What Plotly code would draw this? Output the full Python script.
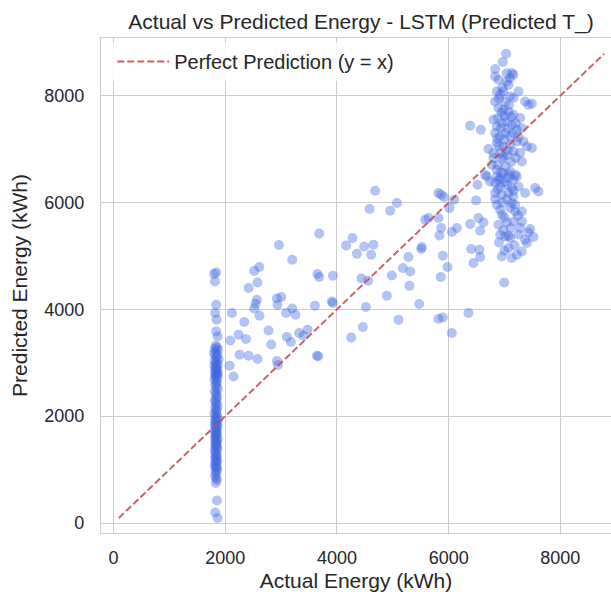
import plotly.graph_objects as go

# (actual kWh, predicted kWh)
column_points = [
    (1838, 4691), (1800, 4667), (1815, 4523), (1838, 4087), (1820, 3931), (1845, 3806), (1838, 3587), (1860, 3493),
    (1830, 3318), (1850, 3290), (1812, 3262), (1870, 3241), (1836, 3205), (1798, 3178), (1855, 3150), (1826, 3131),
    (1842, 3102), (1880, 3069), (1810, 3044), (1848, 3021), (1832, 2987), (1866, 2962), (1804, 2955), (1840, 2931),
    (1825, 2905), (1858, 2880), (1838, 2873), (1812, 2849), (1850, 2822), (1835, 2800), (1872, 2790), (1818, 2768),
    (1845, 2760), (1830, 2741), (1860, 2712), (1808, 2688), (1840, 2651), (1852, 2622), (1822, 2590), (1838, 2548),
    (1866, 2511), (1815, 2470), (1842, 2433), (1828, 2398), (1855, 2356), (1835, 2318), (1812, 2284), (1848, 2251),
    (1830, 2212), (1862, 2179), (1820, 2148), (1845, 2117), (1836, 2083), (1805, 2051), (1852, 2022), (1828, 1994),
    (1840, 1961), (1868, 1950), (1815, 1930), (1846, 1898), (1832, 1880), (1858, 1871), (1810, 1842), (1838, 1813),
    (1862, 1810), (1826, 1785), (1848, 1752), (1834, 1724), (1812, 1720), (1856, 1693), (1840, 1664), (1822, 1640),
    (1846, 1630), (1830, 1602), (1866, 1571), (1814, 1570), (1842, 1543), (1828, 1511), (1852, 1490), (1836, 1482),
    (1818, 1450), (1848, 1421), (1832, 1410), (1860, 1389), (1810, 1358), (1840, 1327), (1826, 1296), (1852, 1262),
    (1838, 1240), (1816, 1231), (1846, 1197), (1830, 1166), (1858, 1150), (1822, 1132), (1840, 1101), (1812, 1068),
    (1848, 1050), (1834, 1035), (1856, 1003), (1826, 968), (1842, 931), (1818, 887), (1838, 842), (1850, 805),
    (1830, 749), (1851, 423), (1820, 198), (1862, 94),
]

middle_points = [
    (4684, 6221), (4582, 5878), (4953, 5846), (5073, 5990), (3682, 5421), (2961, 5204), (4165, 5197), (4278, 5335),
    (4357, 5041), (4488, 5178), (4654, 5210), (4613, 5023), (3199, 4929), (2608, 4792), (2519, 4717), (2578, 4504),
    (2417, 4399), (3652, 4661), (3682, 4605), (3927, 4629), (4439, 4579), (4559, 4536), (4983, 4635), (4894, 4255),
    (2567, 4180), (2542, 4105), (3002, 4231), (2925, 4205), (2936, 4081), (2519, 4017), (2613, 3881), (2119, 3931),
    (2340, 3763), (3091, 3931), (3199, 4017), (3258, 3899), (3605, 4068), (3909, 4148), (3927, 4118), (4518, 4044),
    (5102, 3806), (2775, 3605), (2238, 3525), (2089, 3418), (2370, 3444), (3104, 3482), (3175, 3388), (3324, 3557),
    (3473, 3619), (3401, 3506), (2823, 3343), (4255, 3474), (4464, 3669), (2255, 3151), (2417, 3132), (2578, 3070),
    (2925, 3033), (2943, 2958), (3641, 3132), (3664, 3123), (2076, 2945), (2148, 2744),
    (5818, 6178), (5920, 6099), (5866, 6146), (6099, 6052), (6014, 5897), (5639, 5710), (5579, 5678), (5818, 5710),
    (5866, 5522), (5835, 5384), (6057, 5448), (6147, 5522), (5520, 5167), (5508, 5129), (5280, 4980), (5896, 5004),
    (5180, 4774), (5311, 4710), (5979, 4792), (5860, 4605), (5298, 4442), (5472, 4100), (5818, 3824), (5896, 3849),
    (6354, 3931), (6057, 3557),
]

upper_points = [
    (6385, 5597), (6534, 5710), (6623, 5627), (6564, 5472), (6403, 5129), (6551, 5116), (6564, 4980), (6444, 4867),
    (6492, 6039), (6516, 6333), (6952, 4991), (6994, 4504),
    (7029, 8785), (6970, 8630), (6832, 8499), (7131, 8424), (7160, 8392), (6832, 8360), (6892, 8299), (7042, 8267),
    (7071, 8205), (6863, 8080), (6922, 8018), (6981, 8080), (7250, 8080), (7101, 7986), (7160, 7956), (7369, 7892),
    (7489, 7849), (7429, 7831), (6832, 7892), (6892, 7769), (6981, 7737), (7071, 7705), (7160, 7643), (7280, 7582),
    (6385, 7437), (6576, 7363), (6802, 7550), (6863, 7424), (6952, 7488), (7042, 7518), (7131, 7456), (7221, 7363),
    (7310, 7394), (6832, 7301), (6922, 7237), (7011, 7301), (7101, 7237), (6863, 7114), (6981, 7050), (7101, 7082),
    (7221, 7144), (7339, 7144), (7400, 7050), (7489, 7020), (6713, 7001), (6802, 6926), (6922, 6926), (7042, 6894),
    (7160, 6956), (7280, 6926), (6773, 6707), (6684, 6488), (6863, 6614), (6981, 6552), (7101, 6582), (7221, 6488),
    (6922, 6458), (7310, 6769),
    (6802, 6833), (6981, 6863), (6653, 6520), (7190, 6520), (6863, 6488), (7071, 6458), (7160, 6427), (6743, 6395),
    (6832, 6365), (6922, 6301), (7042, 6333), (7131, 6271), (7250, 6301), (7369, 6178), (7548, 6271), (7608, 6208),
    (6832, 6178), (6952, 6146), (7071, 6178), (7160, 6114), (6832, 6065), (6863, 5959), (6922, 5865), (7131, 5990),
    (7190, 5959), (7190, 5833), (7310, 5833), (6952, 5771), (6892, 5584), (7042, 5627), (7160, 5646), (7310, 5646),
    (7280, 5522), (7459, 5504), (7429, 5440), (6922, 5397), (7011, 5365), (7071, 5378), (7101, 5335), (7518, 5354),
    (7369, 5303), (7400, 5242), (7071, 5148), (7310, 5084), (7131, 4961),
    (6900, 7950), (7010, 7880), (7080, 7820), (6950, 7680), (7120, 7600), (6880, 7580), (7000, 7620), (7200, 7480),
    (6940, 7400), (7060, 7380), (6870, 7200), (7000, 7180), (7150, 7300), (7250, 7220), (6900, 7060), (7060, 6980),
    (6960, 6820), (7120, 6760), (7200, 6840), (6880, 6700), (7020, 6680), (6940, 6560), (7080, 6520), (6900, 6420),
    (7000, 6380), (7160, 6220), (6880, 6250), (7040, 6060), (6960, 6000), (7100, 5900), (7000, 5720), (7240, 5760),
    (7110, 5520), (6980, 5480), (7250, 5400), (6900, 5250), (7180, 5200), (7000, 5100), (7220, 5020), (6960, 8150),
    (7040, 8420), (7100, 8330),
]

x_ticks = [0, 2000, 4000, 6000, 8000]
y_ticks = [0, 2000, 4000, 6000, 8000]

all_points = column_points + middle_points + upper_points
actual = [p[0] for p in all_points]
predicted = [p[1] for p in all_points]

lo = min(min(actual), min(predicted))
hi = max(max(actual), max(predicted))

FONT = "Liberation Sans, Arial, sans-serif"
TXT = "#262626"
GRID = "#cccccc"

fig = go.Figure()
fig.add_trace(go.Scatter(
    x=actual, y=predicted, mode="markers", showlegend=False,
    marker=dict(size=10, color="rgba(65,105,225,0.40)", line=dict(width=0)),
))
fig.add_trace(go.Scatter(
    x=[lo, hi], y=[lo, hi], mode="lines", name="Perfect Prediction (y = x)",
    line=dict(color="rgba(196,78,82,0.88)", width=2, dash="7px,3px"),
))

fig.update_layout(
    width=611, height=592,
    margin=dict(l=101, r=0, t=38, b=59),
    paper_bgcolor="white", plot_bgcolor="white",
    font=dict(family=FONT, color=TXT, size=18),
    title=dict(text="Actual vs Predicted Energy - LSTM (Predicted T_)",
               x=361 / 611, xref="container", xanchor="center",
               y=1 - 21.7 / 592, yref="container", yanchor="middle",
               font=dict(size=21, color=TXT, family=FONT)),
    legend=dict(x=0.022, y=0.992, xanchor="left", yanchor="top",
                bgcolor="rgba(255,255,255,0.8)", borderwidth=0, itemwidth=52,
                font=dict(size=20, color=TXT, family=FONT)),
)
fig.update_xaxes(
    range=[-225, 8907], tickvals=x_ticks, ticktext=[str(v) for v in x_ticks],
    showgrid=True, gridcolor=GRID, gridwidth=1, zeroline=False,
    showline=True, linecolor=GRID, linewidth=1.25, mirror=True,
    ticks="outside", ticklen=8, tickcolor="rgba(0,0,0,0)",
    tickfont=dict(size=18, color=TXT, family=FONT),
    title=dict(text="Actual Energy (kWh)", font=dict(size=21, color=TXT, family=FONT), standoff=7),
)
fig.update_yaxes(
    range=[-187, 9080], tickvals=y_ticks, ticktext=[str(v) for v in y_ticks],
    showgrid=True, gridcolor=GRID, gridwidth=1, zeroline=False,
    showline=True, linecolor=GRID, linewidth=1.25, mirror=False,
    ticks="outside", ticklen=12, tickcolor="rgba(0,0,0,0)",
    tickfont=dict(size=18, color=TXT, family=FONT),
    title=dict(text="Predicted Energy (kWh)", font=dict(size=21, color=TXT, family=FONT), standoff=10),
)

fig.write_html("out.html")
